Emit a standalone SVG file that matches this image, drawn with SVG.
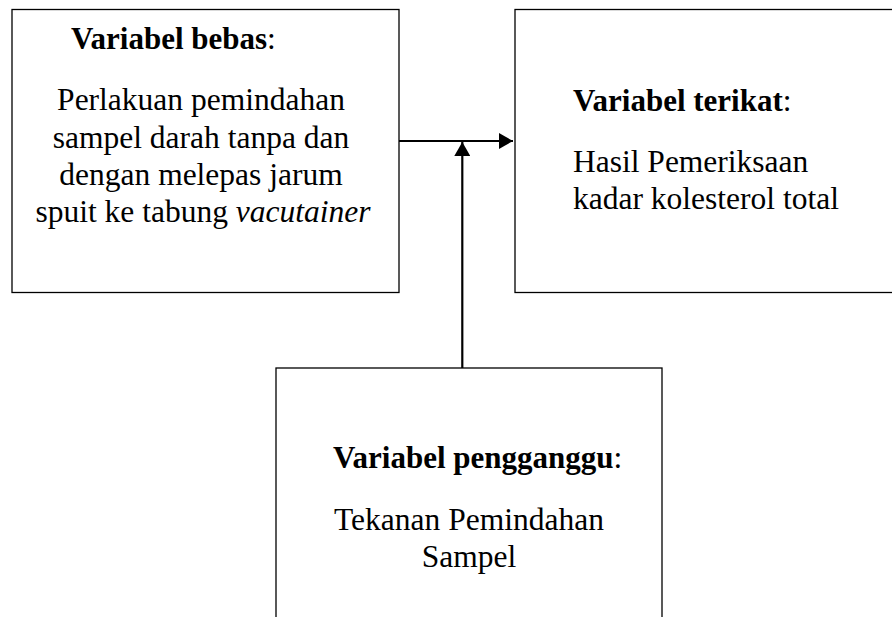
<svg xmlns="http://www.w3.org/2000/svg" width="892" height="617" viewBox="0 0 892 617">
<style>
.box{fill:#fff;stroke:#000;stroke-width:1.3}
.t{font-family:"Liberation Serif","Times New Roman",serif;font-size:31.5px;fill:#000}
.h{font-weight:bold;font-size:31px}
.c{text-anchor:middle}
.conn{stroke:#000;stroke-width:2.2;fill:none}
</style>
<defs>
<marker id="ah" viewBox="0 0 14 16" refX="14" refY="8" markerWidth="14" markerHeight="16" markerUnits="userSpaceOnUse" orient="auto">
<path d="M0,0 L14,8 L0,16 Z" fill="#000"/>
</marker>
</defs>
<rect width="892" height="617" fill="#fff"/>
<g id="node-bebas">
<rect class="box" x="12" y="9.5" width="387" height="283"/>
<text class="t" x="71" y="49"><tspan class="h">Variabel bebas</tspan>:</text>
<text class="t c" x="201" y="110">Perlakuan pemindahan</text>
<text class="t c" x="201" y="148">sampel darah tanpa dan</text>
<text class="t c" x="201" y="185">dengan melepas jarum</text>
<text class="t c" x="203" y="222">spuit ke tabung <tspan font-style="italic">vacutainer</tspan></text>
</g>
<g id="node-terikat">
<rect class="box" x="515" y="9.5" width="390" height="283"/>
<text class="t" x="573" y="111"><tspan class="h">Variabel terikat</tspan>:</text>
<text class="t" x="573" y="172">Hasil Pemeriksaan</text>
<text class="t" x="573" y="209">kadar kolesterol total</text>
</g>
<g id="node-pengganggu">
<rect class="box" x="276" y="368" width="386" height="260"/>
<text class="t" x="333" y="468"><tspan class="h">Variabel pengganggu</tspan>:</text>
<text class="t c" x="469" y="530">Tekanan Pemindahan</text>
<text class="t c" x="469" y="567">Sampel</text>
</g>
<g id="connectors">
<line class="conn" x1="399" y1="141" x2="513" y2="141" marker-end="url(#ah)"/>
<line class="conn" x1="462.3" y1="368" x2="462.3" y2="142" marker-end="url(#ah)"/>
</g>
</svg>
